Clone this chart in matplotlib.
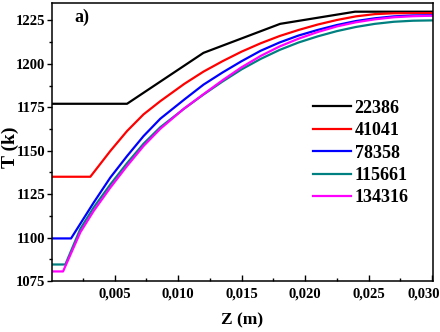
import numpy as np
import matplotlib
matplotlib.use('Agg')
import matplotlib.pyplot as plt
from matplotlib.ticker import MultipleLocator, FuncFormatter
from matplotlib.transforms import ScaledTranslation

plt.rcParams['font.family'] = ['Liberation Serif', 'DejaVu Serif']
plt.rcParams['font.weight'] = 'bold'

# series: z (m), T (k)
z_22386 = [0.00007, 0.00598, 0.01200, 0.01804, 0.02394, 0.03008]
T_22386 = [1177, 1177, 1206.3, 1223, 1230, 1230]

z_41041 = [0.00007, 0.00309, 0.00466, 0.00598, 0.00728, 0.0086, 0.0105, 0.012, 0.0135,
           0.015, 0.0165, 0.018, 0.0195, 0.021, 0.0225, 0.024, 0.0255, 0.027, 0.03008]
T_41041 = [1135, 1135, 1149.8, 1161.3, 1170.9, 1178.5, 1188.5, 1195.5, 1201.5,
           1207, 1211.8, 1216, 1219.5, 1222.6, 1225.2, 1227.3, 1228.6, 1229.1, 1229.2]

z_78358 = [0.00007, 0.00157, 0.00335, 0.00466, 0.00598, 0.00728, 0.0086, 0.0105, 0.012, 0.0135,
           0.015, 0.0165, 0.018, 0.0195, 0.021, 0.0225, 0.024, 0.0255, 0.027, 0.0285, 0.03008]
T_78358 = [1099.5, 1099.5, 1120.1, 1134.5, 1146.9, 1158.4, 1168.4, 1179.5, 1188, 1195,
           1201.5, 1207.5, 1212.3, 1216.3, 1219.5, 1222.3, 1224.6, 1226.2, 1227.3, 1227.8, 1228]

z_115661 = [0.00007, 0.00112, 0.0023, 0.00335, 0.00466, 0.00598, 0.00728, 0.0086, 0.0105, 0.012, 0.0135,
            0.015, 0.0165, 0.018, 0.0195, 0.021, 0.0225, 0.024, 0.0255, 0.027, 0.0285, 0.03008]
T_115661 = [1084.5, 1084.5, 1105, 1117.3, 1130.5, 1142.8, 1154, 1163.5, 1174.3, 1182.3, 1189.8,
            1196.8, 1202.8, 1208, 1212.3, 1215.8, 1218.8, 1221.2, 1223, 1224.2, 1224.8, 1225]

z_134316 = [0.00007, 0.00094, 0.0023, 0.00335, 0.00466, 0.00598, 0.00728, 0.0086, 0.01043, 0.012, 0.0135,
            0.015, 0.0165, 0.018, 0.0195, 0.021, 0.0225, 0.024, 0.0255, 0.027, 0.0285, 0.03008]
T_134316 = [1080.5, 1080.5, 1103, 1115.3, 1128.7, 1141.2, 1152.7, 1162.6, 1174, 1182.5, 1190.5,
            1198, 1204.5, 1210, 1214.5, 1218.3, 1221.5, 1223.9, 1225.6, 1226.8, 1227.4, 1227.7]

x_ticks = [0.005, 0.010, 0.015, 0.020, 0.025, 0.030]
x_ticklabels = ['0,005', '0,010', '0,015', '0,020', '0,025', '0,030']

fig = plt.figure(figsize=(4.4, 3.32), dpi=100)
ax = fig.add_axes([52/440, 51/332, 381/440, 278/332])

ax.plot(z_22386, T_22386, color='black', lw=1.6, label='22386')
ax.plot(z_41041, T_41041, color='#ff0000', lw=1.6, label='41041')
ax.plot(z_78358, T_78358, color='#0000ff', lw=1.6, label='78358')
ax.plot(z_115661, T_115661, color='#008080', lw=1.6, label='115661')
ax.plot(z_134316, T_134316, color='#ff00ff', lw=1.6, label='134316')

ax.set_xlim(0.00007, 0.03008)
ax.set_ylim(1075, 1235)

ax.set_xticks(x_ticks, x_ticklabels)
ax.xaxis.set_minor_locator(MultipleLocator(0.0025))
ax.yaxis.set_major_locator(MultipleLocator(25))
ax.yaxis.set_minor_locator(MultipleLocator(12.5))
ax.yaxis.set_major_formatter(FuncFormatter(lambda v, p: '%d' % v))

ax.tick_params(axis='x', which='major', direction='in', length=4, width=1, pad=5, labelsize=10.5)
ax.tick_params(axis='x', which='minor', direction='in', length=2.5, width=1)
ax.tick_params(axis='y', which='major', direction='out', length=3.5, width=1, pad=1.5, labelsize=10.5)
ax.tick_params(axis='y', which='minor', direction='out', length=2, width=1)
for s in ax.spines.values():
    s.set_linewidth(1.1)

# last x label sits a bit left so it stays inside the figure
last = ax.get_xticklabels()[-1]
last.set_transform(last.get_transform() + ScaledTranslation(-0.08, 0, fig.dpi_scale_trans))

fig.text(242/440, 12/332, 'Z (m)', ha='center', va='center', fontsize=12.5, fontweight='bold')
fig.text(10/440, 185/332, 'T (k)', ha='center', va='center', rotation=90, fontsize=14, fontweight='bold')
ax.text(0.06, 0.95, 'a)', transform=ax.transAxes, ha='left', va='center', fontsize=13, fontweight='bold')

ax.legend(loc='center left', bbox_to_anchor=((313-52)/381, (281-153)/278), frameon=False,
          fontsize=13, handlelength=2.1, handletextpad=0.2, labelspacing=0.3, borderpad=0,
          borderaxespad=0)

fig.savefig('out.png', dpi=100)
